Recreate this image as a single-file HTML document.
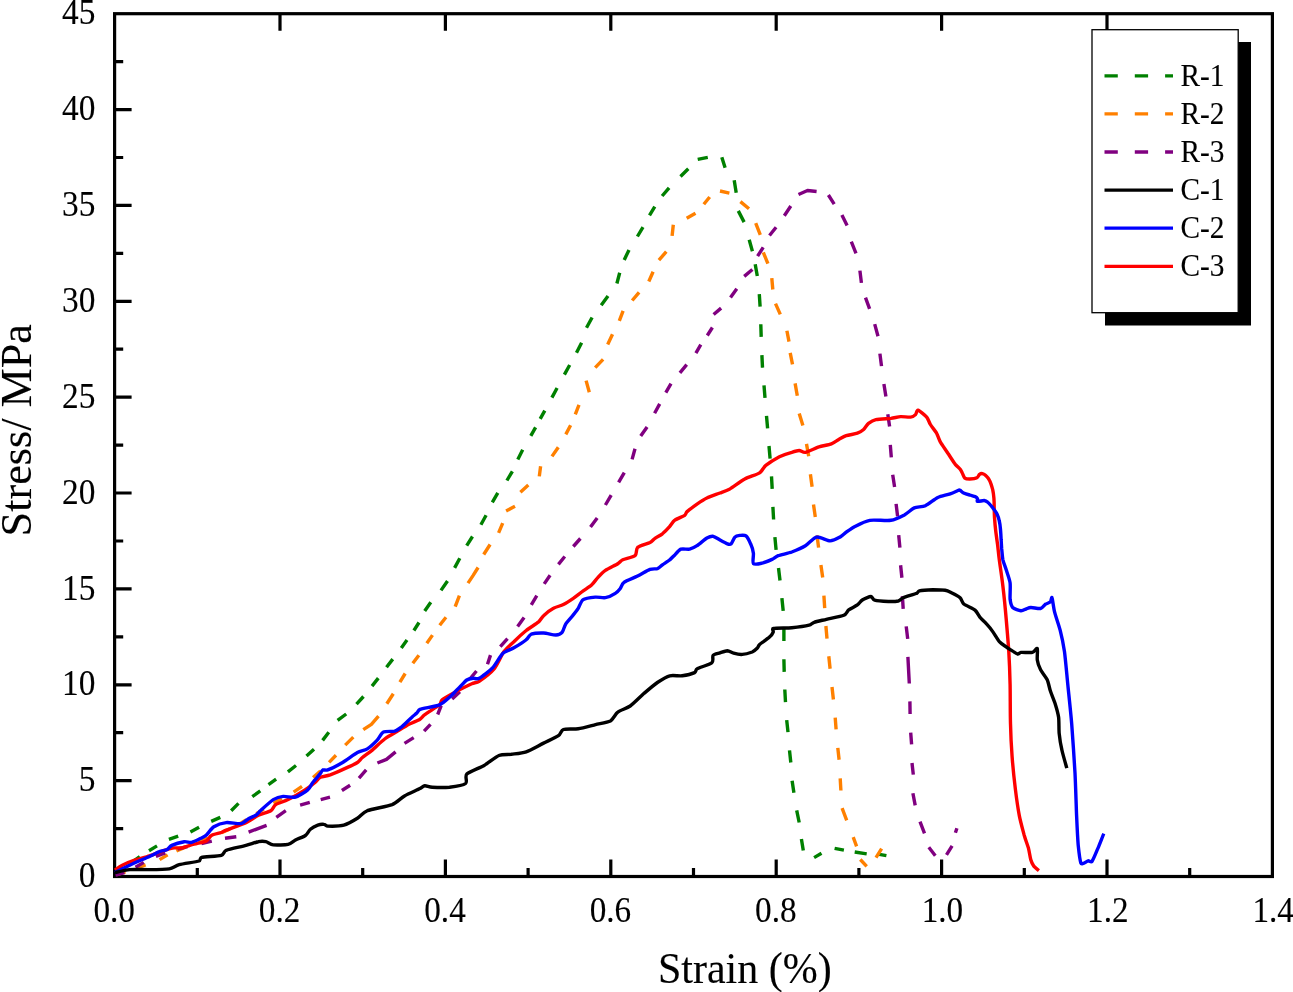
<!DOCTYPE html><html><head><meta charset="utf-8"><title>Stress-Strain</title>
<style>html,body{margin:0;padding:0;background:#fff;}svg{display:block;}text{font-family:"Liberation Serif",serif;fill:#000;stroke:#000;stroke-width:0.12px;filter:grayscale(1);}</style></head><body>
<svg width="1293" height="992" viewBox="0 0 1293 992">
<rect width="1293" height="992" fill="#fff"/>
<rect x="114.6" y="13.7" width="1157.8" height="862.8" fill="none" stroke="#000" stroke-width="3.2"/>
<path d="M197.3 876.5 v-8.6 M280.0 876.5 v-17 M280.0 13.7 v17 M362.7 876.5 v-8.6 M445.4 876.5 v-17 M445.4 13.7 v17 M528.1 876.5 v-8.6 M610.8 876.5 v-17 M610.8 13.7 v17 M693.5 876.5 v-8.6 M776.2 876.5 v-17 M776.2 13.7 v17 M858.9 876.5 v-8.6 M941.6 876.5 v-17 M941.6 13.7 v17 M1024.3 876.5 v-8.6 M1107.0 876.5 v-17 M1107.0 13.7 v17 M1189.7 876.5 v-8.6 M114.6 828.6 h8.6 M114.6 780.6 h17 M114.6 732.7 h8.6 M114.6 684.8 h17 M114.6 636.8 h8.6 M114.6 588.9 h17 M114.6 541.0 h8.6 M114.6 493.0 h17 M114.6 445.1 h8.6 M114.6 397.2 h17 M114.6 349.2 h8.6 M114.6 301.3 h17 M114.6 253.4 h8.6 M114.6 205.4 h17 M114.6 157.5 h8.6 M114.6 109.6 h17 M114.6 61.6 h8.6" stroke="#000" stroke-width="3.2" fill="none"/>
<path d="M115.9 873.1 L123.1 868.2 M132.7 861.6 L139.8 856.7 M149.0 850.7 L157.0 845.9 M168.9 839.4 L178.2 836.1 M190.4 832.1 L199.1 827.3 M211.2 821.4 L220.3 817.4 M231.2 810.7 L238.5 803.4 M252.3 796.6 L260.3 790.9 M268.5 784.6 L276.1 779.2 M287.9 771.9 L296.0 765.5 M306.5 756.1 L314.0 749.3 M322.6 740.4 L328.8 732.2 M337.6 720.4 L346.2 714.0 M356.5 704.2 L363.5 696.5 M372.0 686.1 L378.3 678.1 M386.5 667.3 L392.8 659.1 M401.3 648.0 L407.0 640.1 M413.9 630.5 L419.0 622.5 M424.7 611.0 L430.8 602.3 M441.0 590.4 L447.5 581.0 M454.6 567.9 L459.8 558.2 M466.7 545.7 L472.5 536.5 M480.9 524.7 L486.1 515.2 M492.3 502.4 L497.8 492.9 M506.9 480.5 L512.4 471.3 M517.8 459.4 L522.7 449.8 M530.8 435.9 L535.6 427.3 M540.2 418.9 L544.8 410.6 M551.9 397.6 L557.1 388.0 M564.4 374.6 L569.7 365.0 M576.5 352.8 L581.6 342.8 M586.5 327.7 L592.1 317.5 M601.2 305.3 L608.0 296.1 M616.9 283.5 L619.7 272.8 M624.2 259.9 L629.0 249.9 M637.4 236.5 L643.0 227.1 M649.5 215.3 L654.8 206.6 M662.1 196.0 L669.1 187.8 M680.5 176.5 L688.3 168.8 M697.7 159.3 L707.8 157.3 M721.8 157.2 L725.1 167.8 M734.2 180.3 L736.2 192.7 M738.3 210.9 L744.1 222.1 M749.2 239.7 L752.4 251.2 M755.2 264.2 L757.3 276.0 M759.3 294.1 L760.1 306.7 M760.8 324.3 L761.2 336.9 M761.9 355.2 L762.5 367.7 M764.0 385.3 L765.0 397.9 M766.5 415.8 L767.6 428.4 M769.0 446.0 L770.1 458.6 M771.5 476.3 L772.2 488.9 M772.9 506.9 L773.6 519.5 M774.9 537.2 L776.1 549.8 M778.5 568.0 L780.0 580.5 M781.9 598.2 L783.2 610.8 M783.9 628.5 L783.9 641.1 M783.9 659.3 L784.2 671.9 M784.8 689.5 L785.5 702.1 M786.7 720.1 L788.0 732.1 M789.5 750.4 L790.8 762.5 M792.1 780.8 L793.9 792.7 M796.7 810.4 L799.2 822.5 M801.4 838.9 L803.3 850.5 M814.1 857.6 L821.5 853.3 M834.6 848.3 L843.9 850.1 M854.7 852.0 L866.7 853.9 M879.3 854.4 L886.4 855.7" fill="none" stroke="#008000" stroke-width="3.4" stroke-linejoin="round" stroke-linecap="butt"/>
<path d="M116.8 874.5 L125.5 871.9 M136.5 868.1 L145.6 864.8 M159.6 859.6 L167.6 854.9 M176.4 851.0 L184.9 847.5 M198.3 842.0 L208.0 838.1 M221.5 832.8 L230.0 828.9 M239.1 824.1 L246.4 819.7 M256.3 813.6 L263.8 809.1 M273.5 803.2 L281.8 798.6 M293.6 792.1 L302.0 786.4 M313.1 777.6 L320.5 770.9 M329.1 762.4 L336.0 755.2 M345.2 745.1 L353.3 737.1 M363.3 729.7 L371.4 724.3 L378.5 716.2 M386.8 703.7 L393.3 693.7 M399.9 682.2 L405.2 673.5 M412.8 663.3 L418.9 655.2 M426.8 643.3 L432.5 635.1 M439.7 625.3 L446.0 617.3 M455.2 606.6 L459.4 595.6 M468.0 583.1 L473.0 575.6 L478.1 567.5 M483.7 554.5 L490.1 544.5 M498.6 532.8 L502.7 523.2 M506.1 511.0 L515.0 506.2 M520.4 492.3 L528.3 485.1 M539.3 476.4 L540.6 466.2 M552.0 456.4 L558.3 447.2 M565.8 434.4 L570.6 425.3 M575.3 414.3 L579.0 404.8 M589.3 392.3 L586.1 380.6 M595.2 367.6 L603.1 359.4 M607.7 344.5 L612.5 334.2 M619.3 320.9 L623.1 310.8 M632.2 300.5 L639.1 292.3 M648.8 281.5 L653.1 271.8 M658.9 260.1 L666.3 251.7 M672.1 235.9 L673.3 224.8 M686.7 218.3 L695.5 213.2 M703.8 204.3 L709.7 197.0 M720.0 191.0 L729.4 193.1 M740.4 201.6 L749.0 208.8 M755.7 223.2 L760.3 234.8 M763.3 252.4 L767.9 263.7 M771.8 278.2 L772.8 289.5 M775.5 303.6 L780.3 314.4 M786.9 330.7 L789.0 341.6 M790.2 352.9 L792.5 364.3 M795.1 383.4 L797.3 395.8 M799.2 413.5 L802.9 425.5 M806.5 443.9 L808.7 456.3 M810.4 474.3 L812.1 486.8 M813.5 504.5 L815.3 517.0 M817.0 535.2 L818.6 547.6 M820.9 565.0 L822.7 577.4 M823.9 595.6 L824.7 608.1 M825.9 626.0 L827.0 638.6 M828.8 656.3 L830.1 668.8 M832.0 687.0 L833.4 699.5 M835.2 717.7 L836.1 729.3 M837.8 747.9 L839.1 759.7 M840.2 778.3 L840.9 790.5 M842.1 808.2 L846.7 820.3 M853.2 837.1 L856.6 846.4 M860.3 859.5 L866.7 866.4 M876.0 857.6 L881.6 848.6" fill="none" stroke="#ff8000" stroke-width="3.4" stroke-linejoin="round" stroke-linecap="butt"/>
<path d="M115.5 875.0 L124.5 872.7 M135.5 867.3 L143.8 862.4 M155.9 856.3 L165.3 852.8 M177.6 849.0 L187.6 846.7 M201.5 843.6 L211.8 841.2 M225.0 838.2 L236.3 836.7 M248.6 832.1 L266.6 825.3 M276.3 817.3 L285.8 810.7 M300.1 805.2 L309.8 802.4 M320.7 799.6 L330.0 797.2 M341.9 790.5 L350.1 785.2 M359.0 778.2 L366.2 769.8 M377.4 763.0 L386.5 759.4 L395.6 751.9 M404.5 743.4 L413.7 737.6 M424.1 731.2 L430.5 724.3 M437.7 714.5 L441.2 705.7 M452.1 699.0 L459.9 691.8 M469.8 679.1 L476.5 671.0 M487.5 664.3 L490.5 655.1 M500.3 646.6 L507.5 638.6 M517.6 626.6 L524.1 617.5 M531.3 604.9 L536.8 595.7 M544.2 583.9 L550.1 575.3 M558.4 564.4 L564.8 556.5 M573.3 546.5 L580.4 538.5 M590.5 527.1 L597.2 518.0 M605.4 505.0 L611.2 495.2 M618.6 482.4 L624.3 472.6 M632.1 459.4 L635.0 448.8 M640.7 436.0 L647.1 426.9 M654.6 413.3 L659.7 403.9 M665.8 392.6 L671.0 383.7 M679.9 372.8 L686.7 364.6 M695.9 353.1 L700.8 344.6 M707.3 335.5 L712.4 327.5 M713.6 314.5 L721.1 308.1 M730.5 297.5 L736.8 288.8 M744.2 276.4 L752.4 269.5 M757.6 256.2 L763.2 247.3 M769.5 235.5 L776.1 227.3 M784.3 215.7 L790.8 206.0 M798.5 194.5 L807.5 190.5 L816.6 191.5 M828.4 195.0 L834.2 204.2 M841.9 215.1 L847.1 225.4 M851.3 241.6 L856.0 253.3 M859.9 270.6 L861.4 282.9 M865.5 297.7 L869.6 308.9 M874.7 324.1 L878.0 336.2 M879.9 353.6 L881.5 366.1 M883.9 384.1 L885.9 396.5 M887.8 414.2 L889.6 426.6 M890.3 444.8 L891.3 457.4 M892.7 474.7 L894.6 487.1 M896.1 503.9 L897.6 516.4 M898.7 535.2 L899.9 547.7 M900.6 565.3 L901.9 577.8 M902.4 596.2 L903.2 608.8 M906.2 626.4 L907.7 638.9 M907.9 656.9 L909.3 683.5 M909.9 701.4 L910.1 714.0 M910.7 732.6 L911.6 744.4 M912.0 763.0 L913.3 774.6 M912.9 793.2 L915.2 805.4 M920.0 821.6 L924.5 833.3 M928.8 847.3 L935.3 855.7 M946.5 854.8 L952.1 845.8 M955.4 832.8 L956.9 828.3" fill="none" stroke="#800080" stroke-width="3.4" stroke-linejoin="round" stroke-linecap="butt"/>
<path d="M114.9 870.1 C115.8 869.5 119.8 866.4 122.3 865.2 C124.8 864.0 131.2 861.4 134.7 860.2 C138.1 859.1 145.8 857.0 149.5 855.8 C153.2 854.6 161.3 851.3 164.4 850.3 C167.5 849.4 172.1 848.2 174.3 847.9 C176.4 847.6 179.2 848.3 181.7 847.9 C184.2 847.4 191.0 845.0 194.1 844.2 C197.2 843.3 204.3 842.0 206.4 840.9 C208.6 839.9 209.5 836.5 211.4 835.5 C213.2 834.4 219.4 833.2 221.3 832.5 C223.1 831.8 224.2 830.9 226.2 830.1 C229.3 828.8 242.0 824.5 246.0 822.6 C250.1 820.8 255.3 816.7 258.4 815.2 C261.5 813.7 268.6 812.1 270.8 810.7 C273.0 809.4 273.6 806.0 275.7 804.6 C277.9 803.2 284.4 801.5 288.1 799.6 C291.8 797.8 302.0 791.9 305.4 789.7 C308.8 787.6 313.5 783.8 315.3 782.3 C317.2 780.7 318.4 778.3 320.3 777.3 C322.2 776.4 326.8 776.1 330.2 774.9 C333.6 773.6 344.1 769.0 347.5 767.4 C350.9 765.9 355.6 763.7 357.4 762.5 C359.3 761.3 360.5 759.1 362.4 757.5 C364.2 756.0 369.5 752.4 372.3 750.1 C375.1 747.8 381.6 741.3 384.7 739.0 C387.7 736.7 393.9 733.4 397.0 731.6 C400.1 729.7 406.5 725.7 409.4 724.1 C412.3 722.6 418.1 720.4 420.0 719.2 C422.0 718.0 422.7 716.2 424.8 714.7 C427.2 712.9 437.4 706.6 439.6 704.8 C441.3 703.3 440.3 701.2 442.1 699.8 C444.2 698.1 453.2 693.2 456.9 691.2 C460.6 689.1 469.0 685.0 471.8 683.7 C474.6 682.5 476.6 683.0 479.2 681.3 C482.0 679.4 491.0 672.6 494.1 668.9 C497.2 665.2 501.5 655.0 504.0 651.6 C506.4 648.2 511.1 644.3 513.9 641.7 C516.6 639.0 523.1 633.0 526.2 630.5 C529.3 628.1 536.4 623.7 538.6 621.9 C540.8 620.0 541.7 617.4 543.6 615.7 C545.4 614.0 551.0 609.6 553.5 608.3 C555.9 606.9 560.9 605.8 563.4 604.5 C565.8 603.3 570.8 600.1 573.3 598.4 C575.7 596.7 580.8 592.6 583.2 590.9 C585.5 589.2 590.0 586.4 591.8 584.7 C593.7 583.0 596.3 579.1 598.0 577.3 C599.7 575.5 603.0 572.1 605.4 570.4 C607.9 568.7 615.7 565.0 617.8 563.7 C620.0 562.4 620.6 560.8 622.8 559.8 C624.9 558.8 633.3 557.2 635.1 555.6 C637.0 554.1 635.8 549.1 637.6 547.4 C639.5 545.8 647.8 543.6 650.0 542.5 C652.2 541.3 653.4 539.4 655.0 538.3 C656.5 537.2 660.5 535.3 662.4 533.8 C664.2 532.3 668.3 528.1 669.8 526.4 C671.3 524.7 672.9 521.6 674.8 520.2 C676.6 518.8 683.1 516.4 684.7 515.3 C686.1 514.3 685.8 512.8 687.1 511.6 C688.7 510.2 694.6 505.8 697.0 504.1 C699.5 502.4 704.1 499.3 706.9 498.0 C709.8 496.6 717.2 494.1 720.0 493.0 C722.9 491.9 726.8 490.6 729.9 488.9 C733.0 487.1 741.0 481.0 744.8 479.0 C748.5 477.0 757.0 474.5 759.6 472.8 C762.2 471.1 763.3 467.4 765.8 465.4 C768.3 463.4 776.2 458.4 779.4 456.7 C782.7 455.1 789.3 453.0 791.8 452.3 C794.3 451.5 797.5 450.5 799.2 450.5 C800.9 450.5 802.9 452.7 805.4 452.3 C807.9 451.8 815.8 447.9 819.0 446.8 C822.3 445.8 828.9 444.8 831.4 443.8 C833.9 442.9 837.0 440.4 838.8 439.4 C840.7 438.4 843.9 436.5 846.2 435.7 C848.6 434.9 855.2 434.0 857.4 433.2 C859.5 432.4 862.2 430.7 863.6 429.5 C865.0 428.3 867.0 424.5 868.5 423.3 C870.1 422.1 873.2 420.2 875.9 419.6 C878.7 419.0 887.7 418.7 890.8 418.4 C893.9 418.0 898.2 416.8 900.7 416.6 C903.2 416.5 908.7 417.4 910.6 417.1 C912.5 416.9 914.6 415.5 915.5 414.6 C916.5 413.8 916.6 409.9 918.0 410.2 C919.4 410.5 925.1 415.3 926.7 417.1 C928.2 418.9 929.2 422.5 930.4 424.5 C931.6 426.6 935.3 431.0 936.6 433.2 C937.8 435.4 938.9 439.4 940.3 441.9 C941.7 444.3 945.9 450.2 947.7 453.0 C949.6 455.8 953.6 462.1 955.1 464.1 C956.7 466.1 959.1 467.9 960.0 469.0 C960.9 470.2 961.8 472.1 962.4 473.3 C963.0 474.4 963.9 477.4 964.8 478.1 C965.7 478.8 968.2 479.0 969.7 479.0 C971.2 478.9 975.7 478.3 976.9 477.7 C978.1 477.2 978.7 475.0 979.4 474.5 C980.0 474.0 981.5 473.5 982.4 473.6 C983.2 473.8 985.1 474.8 986.0 475.7 C986.9 476.5 988.8 478.8 989.6 480.5 C990.5 482.3 992.1 487.4 992.7 489.6 C993.2 491.8 993.7 495.8 993.9 498.1 C994.1 500.3 994.2 505.3 994.2 507.7 C994.3 510.2 994.3 514.5 994.5 517.4 C994.7 520.3 995.3 527.4 995.7 530.7 C996.1 534.0 997.0 540.4 997.5 544.0 C998.0 547.7 998.6 554.5 999.3 559.8 C1000.0 565.0 1002.1 578.8 1002.9 586.2 C1003.8 593.6 1005.5 610.8 1006.2 619.0 C1006.9 627.2 1008.3 643.6 1008.8 651.7 C1009.3 659.9 1009.9 675.5 1010.1 684.5 C1010.3 693.5 1010.2 714.8 1010.5 723.8 C1010.7 732.8 1011.5 748.4 1012.1 756.6 C1012.7 764.8 1014.5 782.0 1015.4 789.4 C1016.3 796.7 1018.2 809.8 1019.3 815.6 C1020.4 821.3 1023.1 831.1 1024.2 835.2 C1025.4 839.3 1027.6 845.3 1028.5 848.3 C1029.3 851.4 1030.1 857.6 1030.8 859.8 C1031.4 862.1 1033.0 865.0 1034.0 866.4 C1035.1 867.7 1038.3 870.1 1038.9 870.6" fill="none" stroke="#ff0000" stroke-width="3.4" stroke-linejoin="round" stroke-linecap="butt"/>
<path d="M114.9 872.6 C117.0 871.5 127.8 866.0 132.2 864.0 C136.5 861.9 146.1 858.1 149.5 856.5 C152.9 855.0 157.2 852.4 159.4 851.6 C161.6 850.7 165.3 850.6 166.8 849.8 C168.4 849.1 169.6 846.4 171.8 845.4 C173.9 844.4 181.7 842.1 184.2 841.7 C186.6 841.3 189.4 842.9 191.6 842.4 C193.8 842.0 199.6 838.9 201.5 838.0 C203.3 837.0 204.9 836.4 206.4 835.0 C208.0 833.6 211.4 828.4 213.9 826.8 C216.3 825.3 222.8 823.0 226.2 822.6 C229.6 822.2 238.3 824.1 241.1 823.6 C243.9 823.1 246.7 819.7 248.5 818.7 C250.4 817.6 254.4 816.3 255.9 815.2 C257.5 814.2 258.8 812.1 260.9 810.3 C263.1 808.3 270.5 801.3 273.3 799.6 C276.1 797.9 280.4 796.7 283.2 796.4 C286.0 796.1 292.5 798.0 295.5 797.1 C298.6 796.3 305.8 791.6 307.9 789.7 C310.1 787.9 311.3 784.3 312.9 782.3 C314.4 780.3 319.1 775.2 320.3 773.6 C321.4 772.2 321.8 770.4 322.8 769.9 C323.7 769.5 325.9 770.6 327.7 769.9 C330.2 769.0 338.9 764.7 342.6 762.5 C346.3 760.3 354.3 754.3 357.4 752.6 C360.5 750.9 364.9 750.4 367.3 748.9 C369.8 747.3 375.2 742.3 377.2 740.2 C379.2 738.1 381.2 733.2 383.4 732.1 C385.6 730.9 392.2 731.7 394.6 731.1 C396.9 730.4 399.8 728.3 402.0 726.6 C404.1 724.9 410.0 718.9 411.9 717.2 C413.7 715.5 415.8 714.0 416.8 713.0 C417.9 712.0 418.2 710.0 420.0 709.3 C422.9 708.3 435.9 706.3 439.6 704.8 C443.3 703.3 447.0 699.5 449.5 697.3 C452.0 695.2 457.2 689.6 459.4 687.4 C461.6 685.3 465.1 681.2 466.8 680.0 C468.5 678.9 471.5 678.5 473.0 678.3 C474.6 678.1 477.0 679.5 479.2 678.3 C481.7 677.0 489.9 670.7 492.8 667.6 C495.8 664.6 500.1 656.0 502.7 653.5 C505.4 651.1 510.9 649.6 513.9 647.8 C516.8 646.1 524.1 641.4 526.2 639.7 C528.4 638.0 529.0 635.1 531.2 634.2 C533.4 633.4 540.5 632.9 543.6 633.0 C546.7 633.1 553.6 635.1 555.9 635.0 C558.3 634.9 560.9 633.7 562.1 632.3 C563.4 630.9 564.4 626.0 565.8 623.8 C567.2 621.7 571.7 616.9 573.3 614.9 C574.8 613.0 577.0 610.2 578.2 608.3 C579.5 606.3 581.0 601.0 583.2 599.6 C585.3 598.2 592.8 597.4 595.5 597.1 C598.3 596.9 603.0 598.1 605.4 597.6 C607.9 597.2 613.5 594.6 615.3 593.4 C617.2 592.3 619.2 589.9 620.3 588.5 C621.4 587.1 621.8 583.8 624.0 582.3 C626.2 580.7 634.4 577.7 637.6 576.1 C640.9 574.5 647.5 570.3 650.0 569.4 C652.5 568.5 655.9 569.2 657.4 568.7 C659.0 568.1 660.8 566.1 662.4 564.9 C663.9 563.8 668.3 561.1 669.8 559.8 C671.3 558.6 673.4 556.2 674.8 554.9 C676.1 553.5 679.1 549.9 680.9 549.2 C682.8 548.5 687.6 549.6 689.6 549.2 C691.6 548.7 694.9 547.1 697.0 545.7 C699.2 544.3 704.9 539.2 706.9 538.0 C708.9 536.9 711.5 536.1 713.1 536.3 C714.8 536.6 718.3 539.1 720.0 540.0 C721.8 541.0 726.0 543.3 727.4 543.8 C728.8 544.3 730.2 544.7 731.1 543.8 C732.1 543.0 733.8 538.2 734.9 537.1 C735.9 536.1 738.4 535.6 739.8 535.4 C741.2 535.3 744.6 534.8 746.0 535.9 C747.4 537.0 750.0 542.4 750.9 544.6 C751.9 546.7 753.1 550.8 753.4 553.2 C753.7 555.6 752.3 562.4 753.4 563.6 C754.5 564.9 759.8 563.6 762.1 563.1 C764.4 562.6 770.0 560.3 772.0 559.4 C774.0 558.5 775.7 556.6 778.2 555.7 C780.6 554.8 788.4 553.2 791.8 552.0 C795.2 550.7 802.3 547.7 805.4 545.8 C808.5 543.9 813.4 537.8 816.5 537.1 C819.6 536.5 827.2 540.9 830.1 540.9 C833.1 540.9 838.0 538.2 840.0 537.1 C842.1 536.1 844.4 533.5 846.2 532.2 C848.1 530.9 852.0 528.0 854.9 526.5 C857.8 525.0 865.3 521.1 869.8 520.3 C874.2 519.5 886.5 521.0 890.8 520.3 C895.1 519.6 901.5 516.4 904.4 514.9 C907.3 513.3 911.7 509.1 914.3 507.9 C916.9 506.8 922.5 507.0 925.4 505.7 C928.4 504.4 934.7 499.0 937.8 497.5 C940.9 496.1 947.6 494.8 950.2 493.8 C952.8 492.9 957.6 490.6 958.9 490.1 C959.3 490.0 959.6 490.0 960.0 490.2 C960.6 490.6 962.4 492.4 963.6 493.0 C964.8 493.6 968.2 494.6 969.7 495.0 C971.1 495.5 974.1 496.2 975.1 496.6 C976.1 497.1 977.2 498.1 977.5 498.7 C977.8 499.3 976.7 501.2 977.5 501.4 C978.4 501.7 982.9 500.4 984.2 500.5 C985.5 500.6 986.8 501.4 987.8 502.3 C988.9 503.2 991.5 506.3 992.7 507.7 C993.8 509.2 996.1 512.1 996.9 513.8 C997.7 515.5 998.9 519.1 999.3 521.0 C999.8 523.0 1000.3 527.2 1000.5 529.5 C1000.7 531.8 1001.0 536.8 1001.1 539.2 C1001.3 541.6 1001.5 546.3 1001.7 548.9 C1002.0 551.4 1002.4 557.1 1002.9 559.8 C1003.5 562.4 1005.3 566.9 1006.2 569.8 C1007.1 572.7 1009.6 579.2 1010.1 582.9 C1010.6 586.6 1009.8 596.2 1010.1 599.3 C1010.5 602.4 1011.4 606.1 1012.7 607.5 C1014.1 608.9 1019.3 610.6 1020.9 610.8 C1022.6 611.0 1024.6 609.6 1025.8 609.1 C1027.1 608.7 1028.9 607.6 1030.8 607.5 C1032.6 607.4 1038.7 608.9 1040.6 608.5 C1042.4 608.1 1044.3 605.1 1045.5 604.2 C1046.7 603.4 1049.6 602.8 1050.4 601.9 C1051.2 601.1 1051.5 596.4 1052.0 597.7 C1052.6 599.0 1053.6 608.3 1054.7 612.4 C1055.7 616.5 1059.0 625.5 1060.2 630.4 C1061.5 635.4 1063.5 645.0 1064.5 651.7 C1065.4 658.5 1066.9 675.5 1067.8 684.5 C1068.7 693.5 1070.8 712.8 1071.7 723.8 C1072.6 734.9 1074.3 761.5 1075.0 773.0 C1075.6 784.4 1076.2 806.6 1076.6 815.6 C1077.0 824.6 1077.7 839.1 1078.2 845.1 C1078.8 851.0 1080.1 860.8 1080.9 863.1 C1081.3 864.3 1083.2 863.4 1084.1 863.1 C1085.0 862.8 1087.1 861.0 1088.1 860.8 C1089.0 860.6 1091.0 862.7 1092.0 861.4 C1093.2 859.9 1096.4 851.8 1097.9 848.3 C1099.4 844.9 1103.0 835.4 1103.8 833.6" fill="none" stroke="#0000ff" stroke-width="3.4" stroke-linejoin="round" stroke-linecap="butt"/>
<path d="M114.9 872.6 C116.7 872.2 125.4 870.0 129.7 869.6 C134.0 869.3 144.6 869.7 149.5 869.6 C154.5 869.6 165.6 869.5 169.3 868.9 C173.0 868.3 175.5 865.7 179.2 864.7 C182.9 863.7 196.2 861.9 199.0 861.0 C200.7 860.4 199.8 857.7 201.5 857.3 C204.3 856.6 218.2 856.2 221.3 855.3 C224.0 854.5 223.6 851.4 226.2 850.3 C229.3 849.1 242.0 846.5 246.0 845.4 C250.1 844.3 255.9 842.1 258.4 841.7 C260.9 841.2 264.0 841.3 265.8 841.7 C267.7 842.1 270.5 844.6 273.3 844.9 C276.1 845.2 285.3 845.0 288.1 844.4 C290.9 843.8 293.4 841.1 295.5 840.0 C297.7 838.8 303.6 836.8 305.4 835.5 C307.3 834.2 308.8 830.6 310.4 829.3 C311.9 828.0 316.1 825.7 317.8 825.1 C319.5 824.5 322.8 824.2 324.0 824.4 C325.2 824.5 326.1 826.0 327.7 826.1 C330.2 826.2 340.1 826.1 343.8 825.1 C347.5 824.1 354.5 820.0 357.4 818.2 C360.4 816.4 363.0 812.5 367.3 810.7 C371.7 809.0 387.4 806.4 392.1 804.6 C396.7 802.7 401.0 797.9 404.5 795.9 C408.0 793.9 417.5 789.8 420.0 788.5 C422.0 787.5 423.2 785.9 424.8 785.7 C426.3 785.5 429.2 787.0 432.2 787.2 C435.3 787.4 445.3 787.6 449.5 787.2 C453.7 786.7 463.4 785.1 465.6 783.5 C467.8 781.8 464.5 776.3 466.8 774.1 C469.2 771.8 480.1 767.7 484.2 765.4 C488.2 763.1 495.6 756.9 499.0 755.5 C502.4 754.1 508.0 754.7 511.4 754.3 C514.8 753.8 522.2 753.2 526.2 751.8 C530.3 750.4 539.5 745.1 543.6 743.1 C547.6 741.1 555.9 737.4 558.4 735.7 C560.9 734.0 560.9 730.4 563.4 729.5 C565.8 728.6 574.2 729.4 578.2 728.8 C582.2 728.2 591.5 725.6 595.5 724.6 C599.6 723.6 607.6 722.4 610.4 720.9 C613.2 719.3 615.3 714.0 617.8 712.2 C620.3 710.3 626.9 708.3 630.2 706.0 C633.4 703.7 640.4 696.6 643.8 693.6 C647.2 690.7 654.2 684.7 657.4 682.5 C660.7 680.3 666.7 676.6 669.8 675.8 C672.9 675.0 679.1 676.2 682.2 675.8 C685.3 675.4 692.7 673.5 694.6 672.6 C696.2 671.8 695.5 669.8 697.0 668.9 C699.2 667.6 709.9 664.4 711.9 662.7 C713.9 661.0 712.1 656.5 713.1 655.3 C714.1 654.0 718.3 653.4 720.0 652.8 C721.8 652.2 725.7 650.7 727.4 650.7 C729.1 650.8 731.8 652.7 733.6 653.2 C735.5 653.7 740.0 654.6 742.3 654.4 C744.6 654.3 750.3 652.7 752.2 652.0 C754.0 651.2 756.2 649.2 757.1 648.3 C758.1 647.3 758.3 645.7 759.6 644.5 C761.2 643.2 767.8 638.7 769.5 637.1 C771.2 635.6 772.8 633.3 773.2 632.2 C773.7 631.1 771.8 628.8 773.2 628.5 C775.5 627.9 787.3 628.1 791.8 627.7 C796.3 627.3 806.3 625.9 809.1 625.2 C811.4 624.7 811.9 623.0 814.1 622.3 C816.2 621.5 822.7 620.2 826.4 619.3 C830.1 618.4 841.0 616.5 843.8 615.3 C846.5 614.2 847.0 611.2 848.7 609.9 C850.4 608.6 855.7 606.2 857.4 604.9 C859.1 603.7 860.6 601.1 862.3 600.0 C864.0 598.9 869.4 596.5 871.0 596.5 C872.5 596.6 872.7 599.7 874.7 600.2 C876.9 600.9 885.4 601.4 888.3 601.5 C891.3 601.6 896.4 601.4 898.2 601.0 C900.1 600.5 901.0 598.7 903.2 597.8 C905.5 596.8 914.8 594.2 916.8 593.3 C918.1 592.8 917.9 591.1 919.3 590.8 C921.3 590.4 929.6 589.9 932.9 589.8 C936.1 589.8 942.9 590.0 945.2 590.3 C947.6 590.7 949.6 591.9 951.4 592.8 C953.3 593.7 958.6 596.4 960.1 597.8 C961.6 599.2 962.0 602.4 963.8 604.0 C965.7 605.5 972.9 608.5 975.0 610.1 C977.0 611.8 978.6 615.6 980.0 617.3 C981.4 619.1 984.9 622.0 986.5 623.9 C988.2 625.7 991.5 629.8 993.1 632.1 C994.7 634.3 998.0 640.1 999.6 641.9 C1001.3 643.8 1004.6 645.7 1006.2 646.8 C1007.8 648.0 1011.3 650.2 1012.7 651.1 C1014.2 652.0 1016.6 653.9 1017.7 654.0 C1018.7 654.2 1019.5 652.6 1020.9 652.4 C1022.8 652.2 1030.3 652.9 1032.4 652.4 C1034.4 651.9 1036.7 647.5 1037.3 648.5 C1037.9 649.4 1036.9 657.3 1037.3 659.9 C1037.7 662.6 1039.3 667.3 1040.6 669.8 C1041.8 672.2 1045.9 676.9 1047.1 679.6 C1048.4 682.3 1049.4 688.0 1050.4 691.1 C1051.4 694.1 1054.3 700.9 1055.3 704.2 C1056.3 707.4 1058.1 713.6 1058.6 717.3 C1059.1 721.0 1058.8 729.6 1059.2 733.7 C1059.6 737.8 1060.9 745.7 1061.9 750.0 C1062.8 754.3 1066.2 765.8 1066.8 768.1" fill="none" stroke="#000000" stroke-width="3.4" stroke-linejoin="round" stroke-linecap="butt"/>
<text transform="translate(114.2,921.8) scale(1,1.050)" font-size="33.2" text-anchor="middle">0.0</text>
<text transform="translate(279.6,921.8) scale(1,1.050)" font-size="33.2" text-anchor="middle">0.2</text>
<text transform="translate(445.0,921.8) scale(1,1.050)" font-size="33.2" text-anchor="middle">0.4</text>
<text transform="translate(610.4,921.8) scale(1,1.050)" font-size="33.2" text-anchor="middle">0.6</text>
<text transform="translate(775.8,921.8) scale(1,1.050)" font-size="33.2" text-anchor="middle">0.8</text>
<text transform="translate(942.4,921.8) scale(1,1.050)" font-size="33.2" text-anchor="middle">1.0</text>
<text transform="translate(1107.8,921.8) scale(1,1.050)" font-size="33.2" text-anchor="middle">1.2</text>
<text transform="translate(1273.2,921.8) scale(1,1.050)" font-size="33.2" text-anchor="middle">1.4</text>
<text transform="translate(95.3,887.1) scale(1,1.050)" font-size="33.3" text-anchor="end">0</text>
<text transform="translate(95.3,791.2) scale(1,1.050)" font-size="33.3" text-anchor="end">5</text>
<text transform="translate(95.3,695.4) scale(1,1.050)" font-size="33.3" text-anchor="end">10</text>
<text transform="translate(95.3,599.5) scale(1,1.050)" font-size="33.3" text-anchor="end">15</text>
<text transform="translate(95.3,503.6) scale(1,1.050)" font-size="33.3" text-anchor="end">20</text>
<text transform="translate(95.3,407.8) scale(1,1.050)" font-size="33.3" text-anchor="end">25</text>
<text transform="translate(95.3,311.9) scale(1,1.050)" font-size="33.3" text-anchor="end">30</text>
<text transform="translate(95.3,216.0) scale(1,1.050)" font-size="33.3" text-anchor="end">35</text>
<text transform="translate(95.3,120.2) scale(1,1.050)" font-size="33.3" text-anchor="end">40</text>
<text transform="translate(95.3,23.9) scale(1,1.050)" font-size="33.3" text-anchor="end">45</text>
<text transform="translate(744.8,982.6) scale(1,1.065)" font-size="42" text-anchor="middle">Strain (%)</text>
<text transform="translate(30.5,430.2) rotate(-90) scale(1,1.010)" font-size="44.2" text-anchor="middle">Stress/ MPa</text>
<rect x="1105" y="42" width="146" height="283.5" fill="#000"/>
<rect x="1092" y="29.7" width="146.2" height="283" fill="#fff" stroke="#000" stroke-width="1.3"/>
<path d="M1104.5 75.8 H1173" stroke="#008000" stroke-width="3.3" fill="none" stroke-dasharray="13.3 17"/>
<text transform="translate(1180.5,85.6) scale(1,1.070)" font-size="29.3" text-anchor="start">R-1</text>
<path d="M1104.5 113.9 H1173" stroke="#ff8000" stroke-width="3.3" fill="none" stroke-dasharray="13.3 17"/>
<text transform="translate(1180.5,123.7) scale(1,1.070)" font-size="29.3" text-anchor="start">R-2</text>
<path d="M1104.5 152.0 H1173" stroke="#800080" stroke-width="3.3" fill="none" stroke-dasharray="13.3 17"/>
<text transform="translate(1180.5,161.8) scale(1,1.070)" font-size="29.3" text-anchor="start">R-3</text>
<path d="M1104.5 190.1 H1173" stroke="#000" stroke-width="3.3" fill="none"/>
<text transform="translate(1180.5,199.9) scale(1,1.070)" font-size="29.3" text-anchor="start">C-1</text>
<path d="M1104.5 228.2 H1173" stroke="#0000ff" stroke-width="3.3" fill="none"/>
<text transform="translate(1180.5,238.0) scale(1,1.070)" font-size="29.3" text-anchor="start">C-2</text>
<path d="M1104.5 266.3 H1173" stroke="#ff0000" stroke-width="3.3" fill="none"/>
<text transform="translate(1180.5,276.1) scale(1,1.070)" font-size="29.3" text-anchor="start">C-3</text>
</svg></body></html>
